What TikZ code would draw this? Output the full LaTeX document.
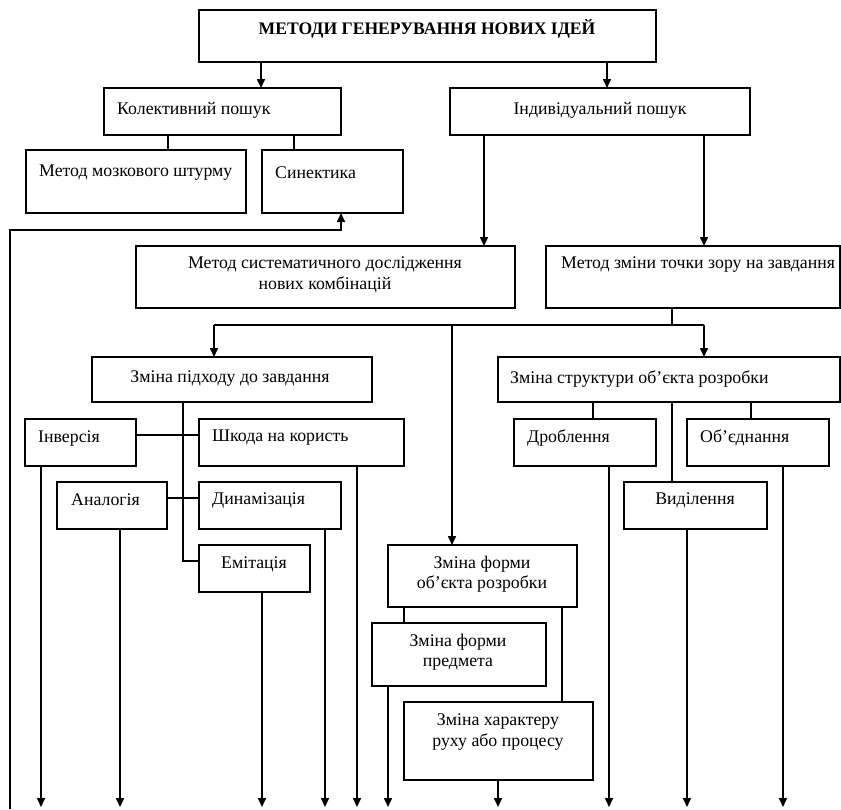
\documentclass[tikz,border=0pt]{standalone}
\usepackage{fontspec}
\setmainfont{Liberation Serif}
\usetikzlibrary{arrows.meta,fit}
\newcommand\bx[5]{\node[box,fit={(#2,#3)(#4,#5)}] (#1) {};}
\begin{document}
\begin{tikzpicture}[x=1pt,y=-1pt,
  box/.style={draw,line width=1.6pt,inner sep=0pt,outer sep=0pt},
  txt/.style={inner sep=0pt,font=\fontsize{17.8}{20.5}\selectfont,align=center},
  tbold/.style={inner sep=0pt,font=\fontsize{17.6}{20.5}\selectfont\bfseries,align=center},
  ln/.style={line width=1.6pt},
  arr/.style={line width=1.6pt,-{Triangle[length=9pt,width=8pt]}}]
\useasboundingbox (0,0) rectangle (841,809);
% boxes
\bx{title}{199}{10}{656}{62}
\bx{koll}{104}{88}{341}{135}
\bx{indiv}{450}{88}{750}{135}
\bx{brain}{26}{150}{246}{213}
\bx{sin}{262}{150}{403}{213}
\bx{syst}{136}{246}{515}{308}
\bx{view}{546}{246}{840}{308}
\bx{appr}{92}{357}{372}{402}
\bx{struct}{498}{357}{840}{402}
\bx{inv}{25}{419}{136}{466}
\bx{harm}{199}{419}{404}{466}
\bx{anal}{57}{482}{167}{529}
\bx{dyn}{199}{482}{341}{529}
\bx{emit}{199}{545}{310}{592}
\bx{drob}{514}{419}{656}{466}
\bx{obj}{687}{419}{829}{466}
\bx{vyd}{624}{482}{767}{529}
\bx{form}{388}{545}{577}{607}
\bx{predm}{372}{623}{546}{686}
\bx{char}{404}{702}{593}{780}
% texts
\node[tbold] (t0) at (427,29) {МЕТОДИ ГЕНЕРУВАННЯ НОВИХ ІДЕЙ};
\node[txt,anchor=west] (t1) at (117,110) {Колективний пошук};
\node[txt] (t2) at (600,110) {Індивідуальний пошук};
\node[txt,anchor=west] (t3) at (39,173) {Метод мозкового штурму};
\node[txt,anchor=west] (t4) at (275,173) {Синектика};
\node[txt] (t5) at (325,275) {Метод систематичного дослідження\\нових комбінацій};
\node[txt,anchor=west] (t6) at (561,265) {Метод зміни точки зору на завдання};
\node[txt] (t7) at (230,379) {Зміна підходу до завдання};
\node[txt,anchor=west] (t8) at (510,379) {Зміна структури об’єкта розробки};
\node[txt,anchor=west] (t9) at (38,438) {Інверсія};
\node[txt,anchor=west] (t10) at (212,438) {Шкода на користь};
\node[txt,anchor=west] (t11) at (71,500) {Аналогія};
\node[txt,anchor=west] (t12) at (212,500) {Динамізація};
\node[txt] (t13) at (254,564) {Емітація};
\node[txt,anchor=west] (t14) at (527,438) {Дроблення};
\node[txt,anchor=west] (t15) at (700,438) {Об’єднання};
\node[txt] (t16) at (695,500) {Виділення};
\node[txt] (t17) at (482,574) {Зміна форми\\об’єкта розробки};
\node[txt] (t18) at (458,652) {Зміна форми\\предмета};
\node[txt] (t19) at (498,732) {Зміна характеру\\руху або процесу};
% connectors
\draw[arr] (261,0 |- title.south) -- (261,0 |- koll.north);
\draw[arr] (607,0 |- title.south) -- (607,0 |- indiv.north);
\draw[ln] (168,0 |- koll.south) -- (168,0 |- brain.north);
\draw[ln] (294,0 |- koll.south) -- (294,0 |- sin.north);
\draw[arr] (484,0 |- indiv.south) -- (484,0 |- syst.north);
\draw[arr] (704,0 |- indiv.south) -- (704,0 |- view.north);
\coordinate (hub) at (672,325);
\coordinate (hl) at (214,325);
\coordinate (hm) at (452,325);
\coordinate (hr) at (704,325);
\draw[ln] (hub |- view.south) -- (hub);
\draw[ln] (hl) -- (hr);
\draw[arr] (hl) -- (hl |- appr.north);
\draw[arr] (hr) -- (hr |- struct.north);
\draw[arr] (hm) -- (hm |- form.north);
\coordinate (as) at (183,561);
\draw[ln] (as |- appr.south) -- (as) -- (as -| emit.west);
\draw[ln] (0,435 -| inv.east) -- (0,435 -| harm.west);
\draw[ln] (0,498 -| anal.east) -- (0,498 -| dyn.west);
\draw[ln] (593,0 |- struct.south) -- (593,0 |- drob.north);
\draw[ln] (672,0 |- struct.south) -- (672,0 |- vyd.north);
\draw[ln] (751,0 |- struct.south) -- (751,0 |- obj.north);
\draw[ln] (404,0 |- form.south) -- (404,0 |- predm.north);
\draw[ln] (562,0 |- form.south) -- (562,0 |- char.north);
% bottom arrows
\coordinate (b1) at (41,807);
\coordinate (b2) at (120,807);
\coordinate (b3) at (262,807);
\coordinate (b4) at (325,807);
\coordinate (b5) at (357,807);
\coordinate (b6) at (388,807);
\coordinate (b7) at (498,807);
\coordinate (b8) at (609,807);
\coordinate (b9) at (687,807);
\coordinate (b10) at (783,807);
\draw[arr] (b1 |- inv.south) -- (b1);
\draw[arr] (b2 |- anal.south) -- (b2);
\draw[arr] (b3 |- emit.south) -- (b3);
\draw[arr] (b4 |- dyn.south) -- (b4);
\draw[arr] (b5 |- harm.south) -- (b5);
\draw[arr] (b6 |- predm.south) -- (b6);
\draw[arr] (b7 |- char.south) -- (b7);
\draw[arr] (b8 |- drob.south) -- (b8);
\draw[arr] (b9 |- vyd.south) -- (b9);
\draw[arr] (b10 |- obj.south) -- (b10);
% feedback line to Синектика
\coordinate (lb) at (10,809);
\coordinate (lk) at (341,230);
\draw[arr] (lb) |- (lk) -- (lk |- sin.south);
\end{tikzpicture}
\end{document}
